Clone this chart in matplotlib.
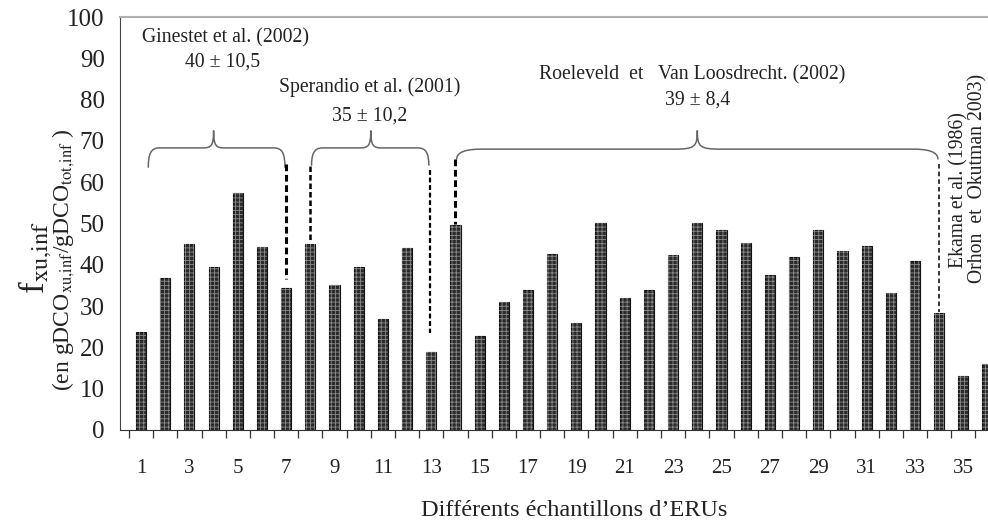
import matplotlib
matplotlib.use("Agg")
import matplotlib.pyplot as plt
import numpy as np
from matplotlib.path import Path
from matplotlib.patches import PathPatch
from matplotlib.ticker import MultipleLocator, FixedLocator

plt.rcParams['font.family'] = ['Liberation Serif', 'DejaVu Serif']
plt.rcParams['mathtext.fontset'] = 'stix'

# ---- data ----
samples = list(range(1, 37))
fxu = [23.7, 36.7, 45.0, 39.4, 57.3, 44.4, 34.3, 45.0, 35.1, 39.4,
       26.8, 44.1, 19.0, 49.6, 22.8, 31.1, 34.0, 42.6, 26.0, 50.1,
       31.9, 34.0, 42.4, 50.1, 48.5, 45.3, 37.5, 41.8, 48.5, 43.4,
       44.5, 33.2, 40.8, 28.4, 13.1, 16.0]
xtick_labels = [str(i) for i in range(1, 36, 2)]

# groups: (label, stats, first sample, last sample)
group_labels = ["Ginestet et al. (2002)", "Sperandio et al. (2001)",
                "Roeleveld  et   Van Loosdrecht. (2002)"]
group_stats = ["40 ± 10,5", "35 ± 10,2", "39 ± 8,4"]
group_start = [1, 8, 14]
group_end = [7, 13, 34]

fig = plt.figure(figsize=(9.88, 5.27), dpi=100)
ax = fig.add_axes([120/988, 97/527, 1 - 120/988 + 0.002, 413/527])

w = 0.42
ax.bar(samples, fxu, width=w, color='#2b2b2b', edgecolor='#111111', linewidth=0.8, zorder=2)
plt.rcParams['hatch.linewidth'] = 0.6
ax.bar(samples, fxu, width=w, color='none', edgecolor='#8a8a8a', hatch='++++', linewidth=0, zorder=3)

ax.set_xlim(0.13, 36.1)
ax.set_ylim(0, 100)
ax.yaxis.set_major_locator(MultipleLocator(10))
ax.set_xticks(list(range(1, 36, 2)))
ax.set_xticklabels(xtick_labels)
ax.xaxis.set_minor_locator(FixedLocator(np.arange(0.5, 36.6, 1.0)))
ax.tick_params(axis='x', which='major', length=0, pad=21, labelsize=15, labelcolor='#222222')
ax.tick_params(axis='x', which='minor', length=6, width=0.9, direction='out', color='#333333')
ax.tick_params(axis='y', which='major', length=0, pad=11, labelsize=18, labelcolor='#222222')

ax.spines['right'].set_visible(False)
ax.spines['top'].set_color('#b0b0b0')
ax.spines['top'].set_linewidth(1.5)
ax.spines['left'].set_color('#444444')
ax.spines['bottom'].set_color('#333333')

def brace(ax, x0, x1, y, yend, ytip, xm, r=0.45):
    verts = [
        (x0, yend),
        (x0, y - 1.5), (x0 + 0.1, y), (x0 + r, y),
        (xm - r, y),
        (xm - 0.1, y), (xm, y + 0.5), (xm, ytip),
        (xm, y + 0.5), (xm + 0.1, y), (xm + r, y),
        (x1 - r, y),
        (x1 - 0.1, y), (x1, y - 1.5), (x1, yend),
    ]
    codes = [Path.MOVETO,
             Path.CURVE4, Path.CURVE4, Path.CURVE4,
             Path.LINETO,
             Path.CURVE4, Path.CURVE4, Path.CURVE4,
             Path.CURVE4, Path.CURVE4, Path.CURVE4,
             Path.LINETO,
             Path.CURVE4, Path.CURVE4, Path.CURVE4]
    ax.add_patch(PathPatch(Path(verts, codes), facecolor='none', edgecolor='#666666',
                           lw=1.1, zorder=4, clip_on=False))

# braces
brace(ax, 1.3, 6.95, 68.3, 63.5, 72.5, 4.0)
brace(ax, 8.05, 12.9, 68.3, 64.0, 72.5, 10.5)
brace(ax, 14.05, 33.95, 68.0, 65.5, 72.5, 24.0, r=1.0)

# dashed connectors
ax.plot([7, 7], [64.5, 36.5], ls=(0, (2.2, 1.2)), color='black', lw=2.2, zorder=4)
ax.plot([8, 8], [64.0, 45.5], ls=(0, (2.2, 1.2)), color='black', lw=1.8, zorder=4)
ax.plot([12.95, 12.95], [63.0, 23.5], ls=(0, (2.2, 1.2)), color='black', lw=1.6, zorder=4)
ax.plot([14, 14], [65.5, 50.0], ls=(0, (2.2, 1.2)), color='black', lw=2.2, zorder=4)
ax.plot([34, 34], [64.5, 28.6], ls=(0, (3, 2)), color='black', lw=1.1, zorder=4)

# group labels
label_pos = [(4.5, 95.0), (10.45, 83.0), (23.8, 86.0)]
stat_pos = [(4.35, 89.0), (10.45, 76.0), (24.0, 80.0)]
for lab, st, (lx, ly), (sx, sy) in zip(group_labels, group_stats, label_pos, stat_pos):
    ax.text(lx, ly, lab, ha='center', va='center', fontsize=14.2, color='#222222')
    ax.text(sx, sy, st, ha='center', va='center', fontsize=14.2, color='#222222')

ax.text(34.8, 58.0, "Ekama et al. (1986)", rotation=90, ha='center', va='center',
        fontsize=14.2, color='#222222')
fig.text(978/988, 1 - 178/527, "Orhon  et  Okutman 2003)", rotation=90, ha='center', va='center',
         fontsize=14.2, color='#222222')

# axis labels
fig.text(574/988, 1 - 510/527, "Différents échantillons d\u2019ERUs", ha='center', va='center',
         fontsize=17.5, color='#222222')
fig.text(35/988, 1 - 258/527, r"f$_{\mathrm{xu{,}inf}}$", rotation=90, ha='center', va='center',
         fontsize=25, color='#222222')
fig.text(64/988, 1 - 260/527,
         r"(en gDCO$_{\mathrm{xu{,}inf}}$/gDCO$_{\mathrm{tot{,}inf}}$ )",
         rotation=90, ha='center', va='center', fontsize=17, color='#222222')

fig.savefig("out.png", dpi=100)
